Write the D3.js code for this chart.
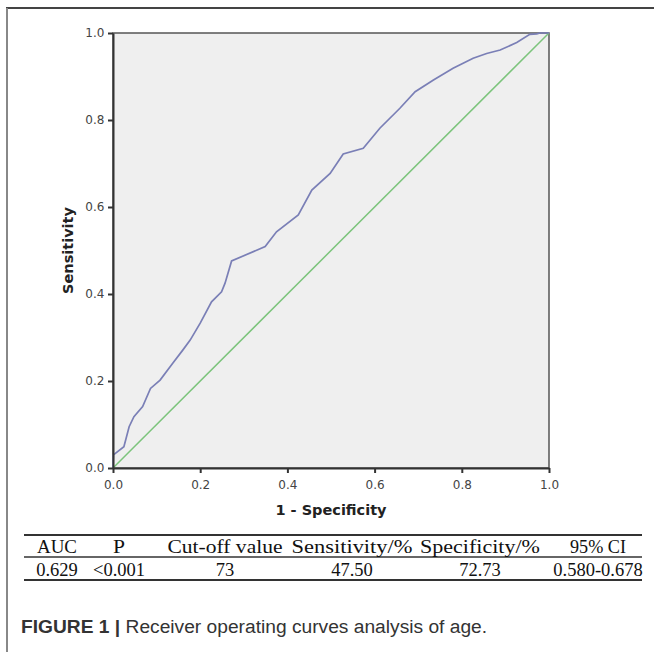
<!DOCTYPE html>
<html>
<head>
<meta charset="utf-8">
<script src="https://cdn.jsdelivr.net/npm/d3@7"></script>
<style>
  body { margin: 0; background: #fff; }
</style>
</head>
<body>
<script>
// ROC curve points (1 - specificity, sensitivity)
var fpr = [0, 0.001, 0.025, 0.037, 0.048, 0.068, 0.086, 0.108, 0.137, 0.160, 0.177,
           0.200, 0.226, 0.249, 0.257, 0.272, 0.349, 0.375, 0.425, 0.456, 0.498,
           0.528, 0.574, 0.612, 0.658, 0.693, 0.735, 0.780, 0.826, 0.857, 0.888,
           0.926, 0.956, 0.972, 0.979, 1];
var tpr = [0, 0.030, 0.049, 0.095, 0.118, 0.141, 0.183, 0.202, 0.241, 0.271, 0.294,
           0.333, 0.382, 0.405, 0.425, 0.476, 0.509, 0.543, 0.582, 0.639, 0.677,
           0.722, 0.735, 0.781, 0.827, 0.865, 0.892, 0.919, 0.942, 0.953, 0.961,
           0.978, 0.997, 0.998, 1.0, 1];
var refLine = [0, 1];
var tickVals = [0, 0.2, 0.4, 0.6, 0.8, 1.0];

// table under the chart
var tableHead = ["AUC", "P", "Cut-off value", "Sensitivity/%", "Specificity/%", "95% CI"];
var tableRow = ["0.629", "<0.001", "73", "47.50", "72.73", "0.580-0.678"];

// table layout (column centres and header text widths, px)
var colCenters = [57, 119, 225, 352, 480, 598];
var headWidths = [40, 12, 115, 121, 120, 56];

var W = 654, H = 652;
var svg = d3.select("body").append("svg")
    .attr("width", W)
    .attr("height", H);

// outer frame (top and left only)
svg.append("line").attr("x1", 6).attr("x2", W).attr("y1", 8).attr("y2", 8)
   .attr("stroke", "#444").attr("stroke-width", 2);
svg.append("line").attr("x1", 7).attr("x2", 7).attr("y1", 8).attr("y2", H)
   .attr("stroke", "#888").attr("stroke-width", 2);

var x = d3.scaleLinear().domain([0, 1]).range([113, 549]);
var y = d3.scaleLinear().domain([0, 1]).range([468, 33]);

// plot background
svg.append("rect")
   .attr("x", x(0)).attr("y", y(1))
   .attr("width", x(1) - x(0)).attr("height", y(0) - y(1))
   .attr("fill", "#efefef")
   .attr("stroke", "#555").attr("stroke-width", 1.5);

// reference diagonal
svg.append("line")
   .attr("x1", x(refLine[0])).attr("y1", y(refLine[0]))
   .attr("x2", x(refLine[1])).attr("y2", y(refLine[1]))
   .attr("stroke", "#7cc47c").attr("stroke-width", 1.5);

// ROC curve
var line = d3.line()
    .x(function(d, i) { return x(fpr[i]); })
    .y(function(d, i) { return y(tpr[i]); });
svg.append("path")
   .datum(fpr)
   .attr("d", line)
   .attr("fill", "none")
   .attr("stroke", "#7a7fb6")
   .attr("stroke-width", 1.7);

// axes
var xAxis = d3.axisBottom(x).tickValues(tickVals).tickFormat(d3.format(".1f"))
    .tickSize(5).tickSizeOuter(0);
var yAxis = d3.axisLeft(y).tickValues(tickVals).tickFormat(d3.format(".1f"))
    .tickSize(5).tickSizeOuter(0);

var gx = svg.append("g").attr("transform", "translate(0," + y(0) + ")").call(xAxis);
var gy = svg.append("g").attr("transform", "translate(" + x(0) + ",0)").call(yAxis);

[gx, gy].forEach(function(g) {
  g.select(".domain").attr("stroke", "#333").attr("stroke-width", 2);
  g.selectAll(".tick line").attr("stroke", "#333").attr("stroke-width", 2);
  g.selectAll(".tick text")
   .attr("font-family", "DejaVu Sans, sans-serif")
   .attr("font-size", "12px")
   .attr("fill", "#444");
});
gx.selectAll(".tick text").attr("dy", "1.05em");
gy.selectAll(".tick text").attr("dx", "-0.05em");

// axis titles
svg.append("text")
   .attr("x", (x(0) + x(1)) / 2).attr("y", 515)
   .attr("text-anchor", "middle")
   .attr("font-family", "DejaVu Sans, sans-serif")
   .attr("font-weight", "bold").attr("font-size", "14.5px")
   .attr("fill", "#222")
   .text("1 - Specificity");

svg.append("text")
   .attr("transform", "translate(73," + ((y(0) + y(1)) / 2) + ") rotate(-90)")
   .attr("text-anchor", "middle")
   .attr("font-family", "DejaVu Sans, sans-serif")
   .attr("font-weight", "bold").attr("font-size", "14.5px")
   .attr("fill", "#222")
   .text("Sensitivity");

// table rules
var rules = [{y: 535, w: 2}, {y: 557, w: 1.5}, {y: 580, w: 2}];
svg.selectAll(".rule")
   .data(rules)
   .enter().append("line")
   .attr("class", "rule")
   .attr("x1", 24).attr("x2", 642)
   .attr("y1", function(d) { return d.y; })
   .attr("y2", function(d) { return d.y; })
   .attr("stroke", "#333")
   .attr("stroke-width", function(d) { return d.w; });

svg.selectAll(".thead")
   .data(tableHead)
   .enter().append("text")
   .attr("class", "thead")
   .attr("x", function(d, i) { return colCenters[i]; })
   .attr("y", 553)
   .attr("text-anchor", "middle")
   .attr("textLength", function(d, i) { return headWidths[i]; })
   .attr("lengthAdjust", "spacingAndGlyphs")
   .attr("font-family", "Liberation Serif, Times New Roman, serif")
   .attr("font-size", "18.5px")
   .attr("fill", "#111")
   .text(function(d) { return d; });

svg.selectAll(".trow")
   .data(tableRow)
   .enter().append("text")
   .attr("class", "trow")
   .attr("x", function(d, i) { return colCenters[i]; })
   .attr("y", 576)
   .attr("text-anchor", "middle")
   .attr("font-family", "Liberation Serif, Times New Roman, serif")
   .attr("font-size", "18.5px")
   .attr("fill", "#111")
   .text(function(d) { return d; });

// caption
var cap = svg.append("text")
   .attr("x", 21).attr("y", 633)
   .attr("font-family", "Liberation Sans, Arial, sans-serif")
   .attr("font-size", "19.2px")
   .attr("fill", "#333");
cap.append("tspan").attr("font-weight", "bold").text("FIGURE 1 | ");
cap.append("tspan").text("Receiver operating curves analysis of age.");
</script>
</body>
</html>
